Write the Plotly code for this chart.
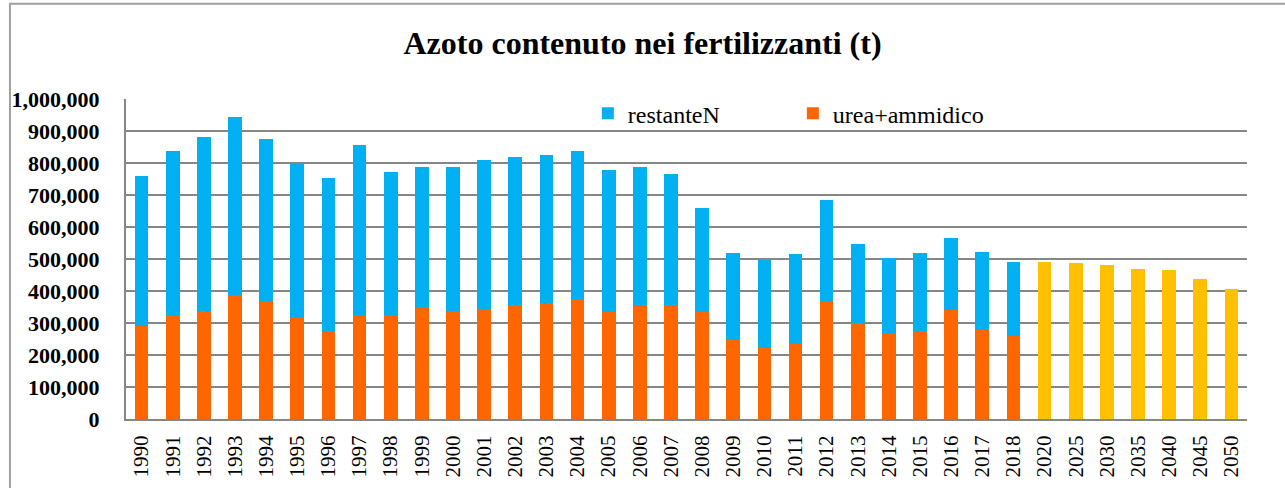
import plotly.graph_objects as go

# categories
years_hist = [str(y) for y in range(1990, 2019)]
years_proj = ["2020", "2025", "2030", "2035", "2040", "2045", "2050"]
all_years = years_hist + years_proj

# nitrogen in fertilisers (t)
urea_ammidico = [291000, 326000, 336000, 389000, 368000, 318000, 274000, 326000, 326000, 347000,
                 336000, 343000, 357000, 364000, 375000, 333000, 355000, 355000, 333000, 249000,
                 224000, 233000, 368000, 301000, 269000, 275000, 340000, 280000, 259000]
restante_n = [467000, 510000, 546000, 556000, 508000, 478000, 480000, 531000, 446000, 440000,
              451000, 465000, 461000, 461000, 464000, 446000, 432000, 410000, 327000, 269000,
              272000, 282000, 316000, 245000, 233000, 243000, 227000, 241000, 233000]
proiezione = [491000, 487000, 481000, 469000, 466000, 437000, 406000]

y_ticks = [0, 100000, 200000, 300000, 400000, 500000, 600000, 700000, 800000, 900000, 1000000]

SERIF = "Liberation Serif, Times New Roman, serif"

fig = go.Figure()
fig.add_trace(go.Bar(x=years_hist, y=urea_ammidico, name="urea+ammidico",
                     marker=dict(color="#FF6600", line=dict(width=0))))
fig.add_trace(go.Bar(x=years_hist, y=restante_n, name="restanteN",
                     marker=dict(color="#00B0F0", line=dict(width=0))))
fig.add_trace(go.Bar(x=years_proj, y=proiezione, name="proiezione", showlegend=False,
                     marker=dict(color="#FFC000", line=dict(width=0))))

fig.update_layout(
    width=1285, height=488,
    barmode="stack", bargap=0.56,
    paper_bgcolor="white", plot_bgcolor="white",
    margin=dict(l=126, r=38, t=99, b=69),
    font=dict(family=SERIF, color="black"),
    title=dict(text="Azoto contenuto nei fertilizzanti (t)", x=0.5, xref="container",
               y=0.913, yanchor="middle",
               font=dict(size=32, family=SERIF, weight="bold")),
    legend=dict(orientation="h", x=0.412, y=0.954, xanchor="left", yanchor="middle",
                traceorder="reversed", font=dict(size=24, family=SERIF),
                bgcolor="rgba(0,0,0,0)", itemwidth=30, entrywidth=160),
    xaxis=dict(type="category", categoryorder="array", categoryarray=all_years,
               tickangle=-90, tickfont=dict(size=21, family=SERIF), showline=True,
               linecolor="#868686", linewidth=2, ticks="", showgrid=False,
               ticklabelstandoff=6),
    yaxis=dict(range=[0, 1000000], tickvals=y_ticks, tickformat=",d",
               tickfont=dict(size=22, family=SERIF, weight="bold"), showline=True,
               linecolor="#868686", linewidth=2, gridcolor="#868686", gridwidth=2,
               ticks="", ticklabelstandoff=20, zeroline=False),
    shapes=[dict(type="rect", xref="paper", yref="paper", x0=-0.1035, x1=1.2,
                 y0=-0.5, y1=1.298, line=dict(color="#A0A0A0", width=2),
                 fillcolor="rgba(0,0,0,0)", layer="below")],
)

fig.write_html("out.html", config={"displayModeBar": False},
               post_script="document.body.style.margin='0';")
